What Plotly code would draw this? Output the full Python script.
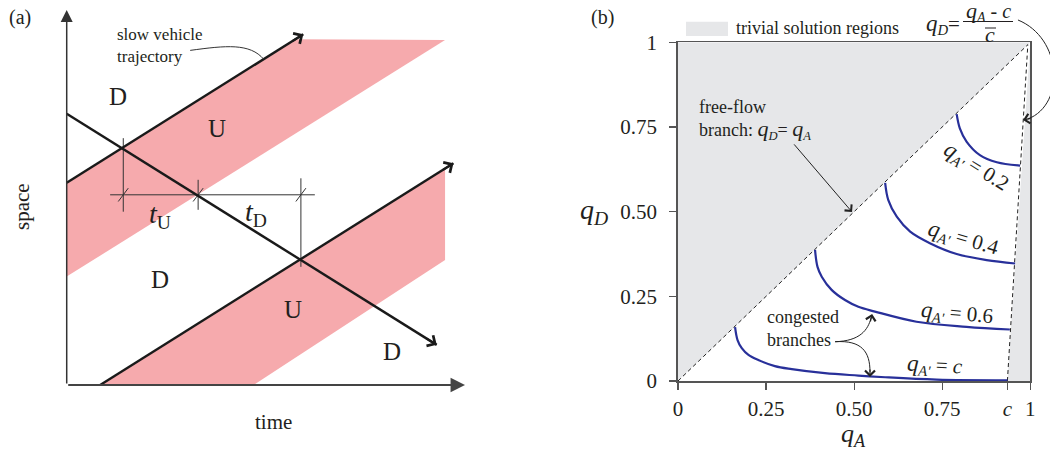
import plotly.graph_objects as go

W, H = 1050, 450
OFF = 0  # body margin removed by the post script below
FONT = "Liberation Serif"
INK = "#231f20"

# ---------------- Panel (a): schematic time-space diagram (normalised units) ----------------
upper_traj_t = [0.0, 0.594]
upper_traj_s = [0.539, 0.935]
lower_traj_t = [0.084, 0.971]
lower_traj_s = [0.0, 0.591]
wave_t = [0.0, 0.929]
wave_s = [0.723, 0.107]
band1_t = [0.0, 0.575, 0.950, 0.0]
band1_s = [0.539, 0.922, 0.920, 0.289]
band2_t = [0.084, 0.950, 0.950, 0.469]
band2_s = [0.0, 0.577, 0.333, 0.0]
cross_t = [0.142, 0.330, 0.588]
dim_s = 0.507
dim_t = [0.109, 0.623]
dim_tick_lo = [0.462, 0.467, 0.315]
dim_tick_hi = [0.658, 0.547, 0.551]
region_labels = ["D", "U", "D", "U", "D"]
region_t = [0.129, 0.378, 0.234, 0.568, 0.817]
region_s = [0.768, 0.685, 0.280, 0.200, 0.088]
interval_labels = ["<i>t</i><sub>U</sub>", "<i>t</i><sub>D</sub>"]
interval_t = [0.234, 0.476]
interval_s = [0.452, 0.456]

# ---------------- Panel (b): q_D versus q_A ----------------
c_value = 0.935
x_tickvals = [0, 0.25, 0.5, 0.75, c_value, 1]
x_ticktext = ["0", "0.25", "0.50", "0.75", "<i>c</i>", "1"]
y_tickvals = [0, 0.25, 0.5, 0.75, 1]
y_ticktext = ["0", "0.25", "0.50", "0.75", "1"]

trivial_upper_x = [0, 0, 1]
trivial_upper_y = [0, 1, 1]
trivial_right_x = [c_value, 1, 1]
trivial_right_y = [0, 0, 1]
freeflow_x = [0, 0.993]
freeflow_y = [0, 0.993]
boundary_x = [c_value, 0.993]
boundary_y = [0, 0.993]

branch_c_x = [0.162, 0.169, 0.181, 0.200, 0.228, 0.275, 0.323, 0.417, 0.512, 0.588, 0.734, 0.935]
branch_c_y = [0.159, 0.121, 0.097, 0.077, 0.062, 0.044, 0.035, 0.023, 0.016, 0.011, 0.004, 0.002]
branch_06_x = [0.389, 0.396, 0.408, 0.436, 0.474, 0.512, 0.559, 0.677, 0.819, 0.942]
branch_06_y = [0.387, 0.337, 0.308, 0.269, 0.239, 0.219, 0.205, 0.175, 0.160, 0.152]
branch_04_x = [0.588, 0.597, 0.621, 0.659, 0.715, 0.791, 0.876, 0.957]
branch_04_y = [0.585, 0.534, 0.485, 0.441, 0.407, 0.375, 0.357, 0.347]
branch_02_x = [0.791, 0.800, 0.819, 0.857, 0.905, 0.971]
branch_02_y = [0.788, 0.746, 0.707, 0.667, 0.646, 0.636]
branch_labels = ["0.2", "0.4", "0.6", "<i>c</i>"]
branch_label_x = [0.845, 0.809, 0.792, 0.729]
branch_label_y = [0.632, 0.420, 0.200, 0.047]
branch_label_angle = [32, 16, 5, 3]

GRAY = "#e6e7e9"
PINK = "#f6aaad"
BLUE = "#28309a"


def DX(sx):
    return (sx - OFF) / W


def DY(sy):
    return 1 - (sy - OFF) / H


def note(text, x, y, ref="paper", size=18, xanchor="center", yanchor="middle", **kw):
    xr, yr = (ref, ref) if ref == "paper" else ref
    if ref == "paper":
        x, y = DX(x), DY(y)
    return dict(text=text, x=x, y=y, xref=xr, yref=yr, xanchor=xanchor, yanchor=yanchor,
                showarrow=False, font=dict(family=FONT, size=size, color=INK), **kw)


def big_q(sub, size=22):
    return f"<span style='font-size:{size}px'><i>q</i></span><sub><i>{sub}</i></sub>"


fig = go.Figure()

# ---- panel (a) traces ----
for bt, bs in [(band1_t, band1_s), (band2_t, band2_s)]:
    fig.add_trace(go.Scatter(x=bt, y=bs, fill="toself", fillcolor=PINK, mode="none",
                             hoverinfo="skip", xaxis="x", yaxis="y"))

fig.add_trace(go.Scatter(x=dim_t, y=[dim_s, dim_s], mode="lines",
                         line=dict(color="#333333", width=1), xaxis="x", yaxis="y"))
for t, lo, hi in zip(cross_t, dim_tick_lo, dim_tick_hi):
    fig.add_trace(go.Scatter(x=[t, t], y=[lo, hi], mode="lines",
                             line=dict(color="#333333", width=1), xaxis="x", yaxis="y"))
    fig.add_trace(go.Scatter(x=[t - 0.0126, t + 0.0126], y=[dim_s - 0.0178, dim_s + 0.0178],
                             mode="lines", line=dict(color="#333333", width=1), xaxis="x", yaxis="y"))

for lt, ls in [(upper_traj_t, upper_traj_s), (lower_traj_t, lower_traj_s), (wave_t, wave_s)]:
    fig.add_trace(go.Scatter(x=lt, y=ls, mode="lines", line=dict(color="#1a1a1a", width=2.4),
                             xaxis="x", yaxis="y"))

# ---- panel (b) traces ----
for tx, ty in [(trivial_upper_x, trivial_upper_y), (trivial_right_x, trivial_right_y)]:
    fig.add_trace(go.Scatter(x=tx, y=ty, fill="toself", fillcolor=GRAY, mode="none",
                             hoverinfo="skip", xaxis="x2", yaxis="y2"))
for dx, dy in [(freeflow_x, freeflow_y), (boundary_x, boundary_y)]:
    fig.add_trace(go.Scatter(x=dx, y=dy, mode="lines",
                             line=dict(color="#222222", width=1, dash="4px,3px"),
                             xaxis="x2", yaxis="y2"))
for bx, by in [(branch_c_x, branch_c_y), (branch_06_x, branch_06_y),
               (branch_04_x, branch_04_y), (branch_02_x, branch_02_y)]:
    fig.add_trace(go.Scatter(x=bx, y=by, mode="lines", line=dict(color=BLUE, width=2.2, shape="spline"),
                             xaxis="x2", yaxis="y2"))

ann = []
shapes = []

# ---- panel (a) axes arrows ----
ann.append(dict(x=0, y=1.0, ax=0, ay=0, xref="x", yref="y", axref="x", ayref="y", text="",
                showarrow=True, arrowhead=2, arrowsize=1.6, arrowwidth=1.5, arrowcolor="#333333"))
ann.append(dict(x=1.0, y=0, ax=0, ay=0, xref="x", yref="y", axref="x", ayref="y", text="",
                showarrow=True, arrowhead=2, arrowsize=1.6, arrowwidth=1.8, arrowcolor="#444444"))
for lt, ls in [(upper_traj_t, upper_traj_s), (lower_traj_t, lower_traj_s), (wave_t, wave_s)]:
    slope = (ls[1] - ls[0]) / (lt[1] - lt[0])
    ann.append(dict(x=lt[1], y=ls[1], ax=lt[1] - 0.03, ay=ls[1] - 0.03 * slope,
                    xref="x", yref="y", axref="x", ayref="y", text="", showarrow=True,
                    arrowhead=4, arrowsize=1.2, arrowwidth=2, arrowcolor="#1a1a1a"))

for lab, t, s in zip(region_labels, region_t, region_s):
    ann.append(note(lab, t, s, ref=("x", "y"), size=25))
for lab, t, s in zip(interval_labels, interval_t, interval_s):
    ann.append(note(lab, t, s, ref=("x", "y"), size=28))
ann.append(note("slow vehicle<br>trajectory", 0.121, 0.904, ref=("x", "y"), size=17,
                xanchor="left", align="left"))
shapes.append(dict(type="path", xref="x", yref="y",
                   path="M 0.310,0.892 C 0.400,0.905 0.460,0.912 0.495,0.868",
                   line=dict(color="#333333", width=1)))

ann.append(note("space", 22, 207, size=21, textangle=-90))
ann.append(note("time", 273, 422, size=21))
ann.append(note("(a)", 20, 17, size=20))
ann.append(note("(b)", 602, 17, size=20))

# ---- panel (b) annotations ----
ann.append(note("<i>q</i><sub><i>D</i></sub>", 594, 211, size=28))
ann.append(note("<i>q</i><sub><i>A</i></sub>", 853, 435, size=26))

for lab, bx, by, ang in zip(branch_labels, branch_label_x, branch_label_y, branch_label_angle):
    ann.append(note(big_q("A'", 23) + " = " + lab, bx, by, ref=("x2", "y2"), size=21, textangle=ang))

ann.append(note("free-flow<br>branch: " + big_q("D") + "= " + big_q("A"), 0.054, 0.771,
                ref=("x2", "y2"), size=18, xanchor="left", align="left"))
ann.append(dict(x=0.494, y=0.499, ax=0.326, ay=0.703, xref="x2", yref="y2", axref="x2", ayref="y2",
                text="", showarrow=True, arrowhead=4, arrowsize=1.8, arrowwidth=1, arrowcolor="#222222"))

ann.append(note("congested<br>branches", 0.247, 0.156, ref=("x2", "y2"), size=18,
                xanchor="left", align="left"))
shapes.append(dict(type="path", xref="x2", yref="y2",
                   path="M 0.446,0.116 C 0.517,0.118 0.539,0.151 0.548,0.186",
                   line=dict(color="#222222", width=1)))
shapes.append(dict(type="path", xref="x2", yref="y2",
                   path="M 0.446,0.116 C 0.522,0.121 0.545,0.086 0.545,0.027",
                   line=dict(color="#222222", width=1)))
ann.append(dict(x=0.551, y=0.198, ax=-2, ay=9, xref="x2", yref="y2", text="", showarrow=True,
                arrowhead=4, arrowsize=1.6, arrowwidth=1.2, arrowcolor="#222222"))
ann.append(dict(x=0.545, y=0.012, ax=0, ay=-9, xref="x2", yref="y2", text="", showarrow=True,
                arrowhead=4, arrowsize=1.6, arrowwidth=1.2, arrowcolor="#222222"))

# legend
shapes.append(dict(type="rect", xref="paper", yref="paper", x0=DX(686), y0=DY(36), x1=DX(728), y1=DY(21.7),
                   fillcolor=GRAY, line=dict(width=0)))
ann.append(note("trivial solution regions", 734, 28, size=18, xanchor="left"))

# formula q_D = (q_A - c) / c-bar
ann.append(note(big_q("D", 23) + "=", 962, 24, size=21, xanchor="right"))
ann.append(note(big_q("A", 22) + " - <i>c</i>", 988, 11, size=20))
shapes.append(dict(type="line", xref="paper", yref="paper", x0=DX(963), y0=DY(21.5), x1=DX(1013), y1=DY(21.5),
                   line=dict(color=INK, width=1)))
ann.append(note("<i>c</i>", 990, 34, size=22))
shapes.append(dict(type="line", xref="paper", yref="paper", x0=DX(985), y0=DY(28), x1=DX(996), y1=DY(28),
                   line=dict(color=INK, width=1)))
pts = [(1018, 20), (1062, 38), (1066, 104), (1028, 119)]
path = "M " + " ".join(
    ("C " if i == 1 else "") + f"{DX(px):.4f},{DY(py):.4f}" for i, (px, py) in enumerate(pts))
shapes.append(dict(type="path", xref="paper", yref="paper", path=path, line=dict(color="#222222", width=1)))
ann.append(dict(x=DX(1023), y=DY(120), xref="paper", yref="paper", ax=9, ay=-2, text="", showarrow=True,
                arrowhead=4, arrowsize=1.6, arrowwidth=1.2, arrowcolor="#222222"))

axis_b = dict(showline=True, linecolor="#555555", linewidth=1.8, mirror=True, ticks="outside",
              ticklen=7, tickwidth=1.2, tickcolor="#555555", showgrid=False, zeroline=False,
              automargin=False, tickfont=dict(family=FONT, size=21, color=INK), range=[0, 1],
              fixedrange=True)

fig.update_layout(
    width=W, height=H, autosize=False,
    margin=dict(l=0, r=0, t=0, b=0, pad=0),
    paper_bgcolor="white", plot_bgcolor="rgba(0,0,0,0)",
    showlegend=False,
    xaxis=dict(domain=[DX(46.8), DX(484.9)], range=[-0.05, 1.05], visible=False, fixedrange=True,
               automargin=False),
    yaxis=dict(domain=[DY(403.75), DY(8)], range=[-0.05, 1.005], visible=False, fixedrange=True,
               automargin=False),
    xaxis2=dict(domain=[DX(678), DX(1030.3)], anchor="y2", tickvals=x_tickvals, ticktext=x_ticktext,
                ticklabelstandoff=1, **axis_b),
    yaxis2=dict(domain=[DY(381), DY(42.3)], anchor="x2", tickvals=y_tickvals, ticktext=y_ticktext,
                ticklabelstandoff=8, **axis_b),
    annotations=ann,
    shapes=shapes,
)

fig.write_html("out.html", config={"displayModeBar": False, "staticPlot": True},
               post_script="document.body.style.margin='0px';")
